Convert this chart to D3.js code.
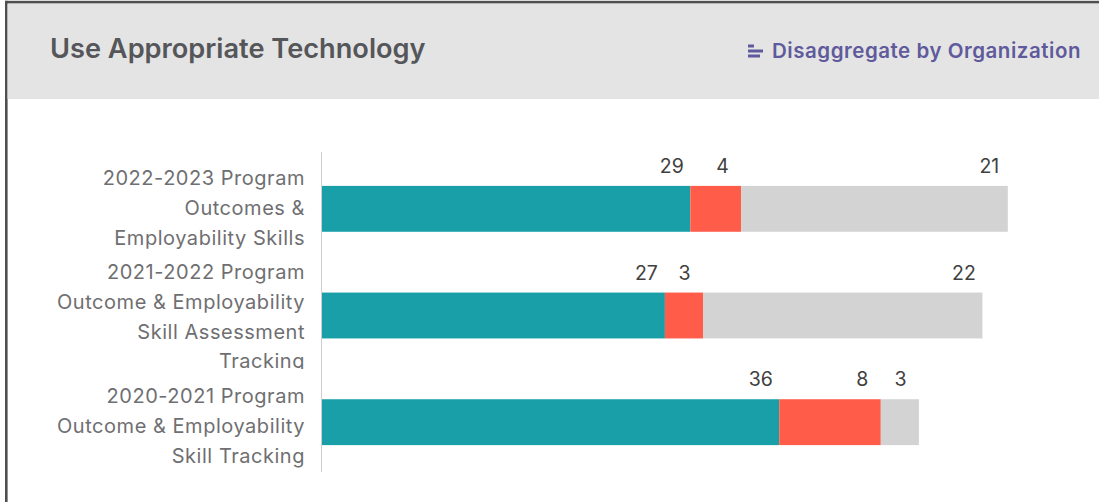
<!DOCTYPE html>
<html>
<head>
<meta charset="utf-8">
<script src="https://cdn.jsdelivr.net/npm/d3@7/dist/d3.min.js"></script>
<style>
  html, body { margin: 0; padding: 0; background: #fff; }
  svg { display: block; }
  text { font-family: Inter, "Noto Sans", sans-serif; }
</style>
</head>
<body>
<svg id="chart" width="1099" height="502"></svg>
<script>
// Assessment programs, top to bottom, split across their label lines
const categories = [
  "2022-2023 Program Outcomes & Employability Skills",
  "2021-2022 Program Outcome & Employability Skill Assessment Tracking",
  "2020-2021 Program Outcome & Employability Skill Tracking"
];
const labelLines = [
  ["2022-2023 Program", "Outcomes &", "Employability Skills"],
  ["2021-2022 Program", "Outcome & Employability", "Skill Assessment", "Tracking"],
  ["2020-2021 Program", "Outcome & Employability", "Skill Tracking"]
];

// Counts per stacked segment
const seriesTeal = [29, 27, 36];
const seriesRed = [4, 3, 8];
const seriesGrey = [21, 22, 3];

const title = "Use Appropriate Technology";
const actionText = "Disaggregate by Organization";

const seriesNames = ["teal", "red", "grey"];
const colors = { teal: "#189fa8", red: "#ff5c4a", grey: "#d3d3d3" };

const svg = d3.select("#chart");

// Panel frame and header band
svg.append("rect").attr("x", 5).attr("y", 0.8).attr("width", 1094).attr("height", 2.8).attr("fill", "#4f4f4f");
svg.append("rect").attr("x", 5).attr("y", 0.8).attr("width", 2.6).attr("height", 501.2).attr("fill", "#4f4f4f");
svg.append("rect").attr("x", 7.6).attr("y", 3.6).attr("width", 1091.4).attr("height", 95.4).attr("fill", "#e4e4e4");

svg.append("text")
  .attr("x", 50).attr("y", 58)
  .attr("font-size", 27.2).attr("font-weight", 600).attr("fill", "#55565a")
  .text(title);

// Small bar-chart glyph beside the action link
const iconWidths = [6, 15, 12];
svg.append("g").selectAll("rect").data(iconWidths).join("rect")
  .attr("x", 748)
  .attr("y", (d, i) => 44.5 + i * 5)
  .attr("width", d => d)
  .attr("height", 3)
  .attr("fill", "#5f5a9c");

svg.append("text")
  .attr("x", 1081).attr("y", 58).attr("text-anchor", "end")
  .attr("font-size", 20.5).attr("font-weight", 600).attr("letter-spacing", 0.53).attr("fill", "#5f5a9c")
  .text(actionText);

// Scales
const x = d3.scaleLinear().domain([0, 54]).range([322, 322 + 54 * 12.7]);
const y = d3.scaleBand().domain(categories).range([155.5, 475.5]).paddingInner(0.57).paddingOuter(0.285);

const rows = categories.map((c, i) => ({
  category: c, teal: seriesTeal[i], red: seriesRed[i], grey: seriesGrey[i]
}));
const stacked = d3.stack().keys(seriesNames)(rows);

// Category axis: baseline and wrapped, right-aligned labels
const axisG = svg.append("g").attr("transform", "translate(321.5,0)")
  .call(d3.axisLeft(y).tickSize(0).tickPadding(16).tickFormat(""));
axisG.select(".domain").remove();
svg.append("line")
  .attr("x1", 321.5).attr("x2", 321.5).attr("y1", 152).attr("y2", 472)
  .attr("stroke", "#cfcfcf").attr("stroke-width", 1);

const labelTop = [178, 272, 396];
const labelStep = 29.8;
const clip = svg.append("defs").append("clipPath").attr("id", "label-clip");
clip.append("rect").attr("x", 0).attr("y", 150).attr("width", 321).attr("height", 219);
clip.append("rect").attr("x", 0).attr("y", 382).attr("width", 321).attr("height", 100);

const labels = svg.append("g").attr("clip-path", "url(#label-clip)");
labelLines.forEach((lines, i) => {
  labels.append("g").selectAll("text").data(lines).join("text")
    .attr("x", 305)
    .attr("y", (d, j) => labelTop[i] + j * labelStep)
    .attr("dy", "0.35em")
    .attr("text-anchor", "end")
    .attr("font-size", 20)
    .attr("letter-spacing", 0.53)
    .attr("fill", "#6f6f72")
    .text(d => d);
});

// Stacked bars
svg.append("g").selectAll("g").data(stacked).join("g")
  .attr("fill", s => colors[s.key])
  .selectAll("rect").data(s => s).join("rect")
  .attr("x", d => x(d[0]))
  .attr("y", d => y(d.data.category))
  .attr("width", d => x(d[1]) - x(d[0]))
  .attr("height", y.bandwidth());

// Value labels sit above each segment, near its right end
svg.append("g").selectAll("g").data(stacked).join("g")
  .selectAll("text").data(s => s).join("text")
  .attr("x", d => x(d[1]) - 18.5)
  .attr("y", d => y(d.data.category) - 13)
  .attr("text-anchor", "middle")
  .attr("font-size", 19.5)
  .attr("fill", "#404040")
  .text(d => d[1] - d[0]);
</script>
</body>
</html>
